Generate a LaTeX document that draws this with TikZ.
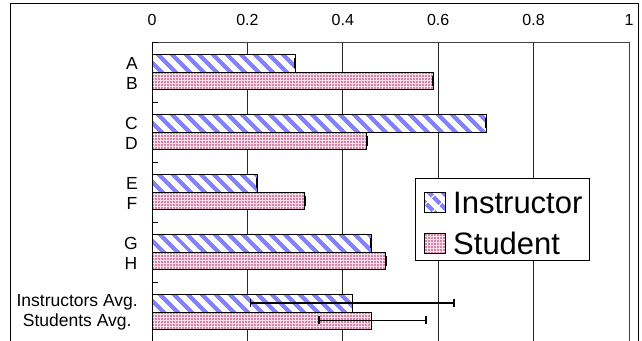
\documentclass[tikz,border=0pt]{standalone}
\usepackage{fontspec}
\setmainfont{Liberation Sans}
\usetikzlibrary{patterns.meta}
\definecolor{stripe}{RGB}{130,130,255}
\definecolor{pinkbg}{RGB}{248,222,234}
\definecolor{pinkdot}{RGB}{175,40,100}
\tikzset{
  instbar/.style={preaction={fill=white}, pattern={Lines[angle=-45,distance=10.5pt,line width=4.5pt]}, pattern color=stripe},
  studbar/.style={preaction={fill=pinkbg}, pattern={Dots[distance=3pt,radius=0.8pt]}, pattern color=pinkdot},
  barline/.style={draw=black, line width=0.8pt},
  gridln/.style={line width=0.8pt, draw=black!85},
  capln/.style={line width=2pt},
  errln/.style={line width=1.5pt},
  ticklab/.style={font=\fontsize{16}{19}\selectfont, inner sep=0pt},
  catlab/.style={font=\fontsize{17.5}{20}\selectfont, align=center, anchor=east, inner sep=0pt},
  legtext/.style={font=\fontsize{31}{36}\selectfont, anchor=west, inner sep=0pt},
}
\begin{document}
\begin{tikzpicture}[x=1pt,y=-1pt]
\useasboundingbox (0,0) rectangle (642,340);
\clip (0,0) rectangle (642,340);
% outer frame
\draw[line width=1pt] (10,3.3) rectangle (638,360);
% gridlines
\foreach \v in {0.2,0.4,0.6,0.8}
  \draw[gridln] ({152+477*\v},42.7) -- ({152+477*\v},350);
\draw[line width=0.8pt, draw=black!75] (152,42.7) -- (629,42.7) -- (629,350);
% tick labels
\foreach \v/\l [count=\i] in {0/0,0.2/0.2,0.4/0.4,0.6/0.6,0.8/0.8,1/1}
  \node[ticklab] (t\i) at ({152+477*\v},20) {\l};
% bars
\foreach \k/\a/\b in {0/0.30/0.59, 1/0.70/0.45, 2/0.22/0.32, 3/0.46/0.49, 4/0.42/0.46} {
  \pgfmathsetmacro\t{42.7+60*\k}
  \path[instbar, barline] (152,{\t+12}) rectangle ({152+477*\a},{\t+29.5});
  \path[studbar, barline] (152,{\t+29.5}) rectangle ({152+477*\b},{\t+47});
}
% small error caps
\foreach \k/\a/\b in {0/0.30/0.59, 1/0.70/0.45, 2/0.22/0.32, 3/0.46/0.49} {
  \pgfmathsetmacro\t{42.7+60*\k}
  \draw[capln] ({152+477*\a},{\t+15.7}) -- ({152+477*\a},{\t+25.7});
  \draw[capln] ({152+477*\b},{\t+33.2}) -- ({152+477*\b},{\t+43.2});
}
% average error bars
\coordinate (ilo) at ({152+477*0.207},302.9);
\coordinate (ihi) at ({152+477*0.633},302.9);
\coordinate (slo) at ({152+477*0.35},320.4);
\coordinate (shi) at ({152+477*0.574},320.4);
\draw[errln] (ilo) -- (ihi);
\draw[errln] (slo) -- (shi);
\foreach \c in {ilo,ihi,slo,shi}
  \draw[errln] ([yshift=-4pt]\c) -- ([yshift=4pt]\c);
% left axis and ticks
\draw[line width=1pt] (152,42.7) -- (152,350);
\foreach \k in {0,...,5}
  \draw[line width=0.8pt] (152,{42.7+60*\k}) -- (158,{42.7+60*\k});
% category labels
\node[catlab] (cAB) at (138,73.5) {A\\B};
\node[catlab] (cCD) at (138,133.5) {C\\D};
\node[catlab] (cEF) at (138,193.5) {E\\F};
\node[catlab] (cGH) at (138,253.5) {G\\H};
\node[catlab] (cAvg) at (138,312.5) {Instructors Avg.\\Students Avg.};
% legend
\node[draw=black, fill=white, line width=0.8pt, minimum width=173.6pt, minimum height=81.7pt, inner sep=0pt] (legend) at (502.5,219.15) {};
\path[instbar, barline] (424,192) rectangle (445,212.7);
\path[studbar, barline] (424,233) rectangle (445,253);
\node[legtext] (linst) at (453,202.5) {Instructor};
\node[legtext] (lstud) at (453,243.5) {Student};
\end{tikzpicture}
\end{document}
